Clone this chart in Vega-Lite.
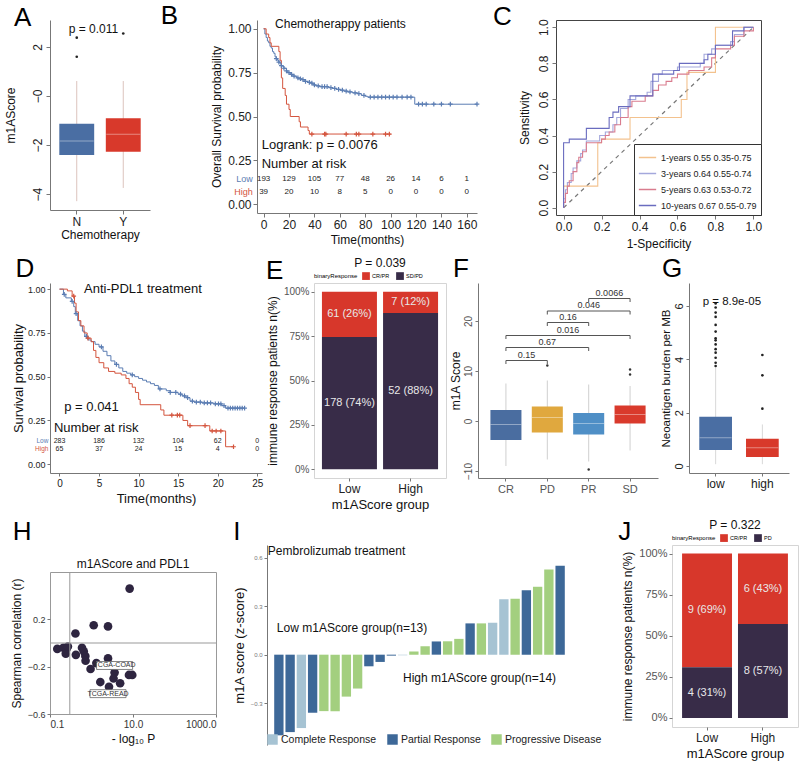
{
 "$schema": "https://vega.github.io/schema/vega-lite/v6.json",
 "background": "white",
 "padding": {"left": 3, "top": 2, "right": 2, "bottom": 2},
 "config": {
  "font": "Liberation Sans",
  "view": {"stroke": null},
  "axis": {"grid": false, "domainColor": "#777", "tickColor": "#777", "labelColor": "#333", "titleColor": "#111", "titleFontWeight": "normal", "tickSize": 4, "labelFontSize": 10, "titleFontSize": 12, "titlePadding": 4, "labelPadding": 2},
  "title": {"fontWeight": "normal", "color": "#111"},
  "legend": {"titleFontWeight": "normal"}
 },
 "datasets": {
  "a_box": [{"grp": "N", "lo": -4.29, "q1": -2.41, "med": -1.84, "q3": -1.13, "hi": 0.61}, {"grp": "Y", "lo": -3.75, "q1": -2.27, "med": -1.56, "q3": -0.91, "hi": 0.61}],
  "a_out": [{"grp": "N", "v": 2.38}, {"grp": "N", "v": 1.6}, {"grp": "Y", "v": 2.55}],
  "b_curve": [
   {"t": 0, "s": 1.0, "g": "Low"}, {"t": 1, "s": 0.97, "g": "Low"}, {"t": 2, "s": 0.95, "g": "Low"}, {"t": 3, "s": 0.93, "g": "Low"}, {"t": 4, "s": 0.92, "g": "Low"}, {"t": 5, "s": 0.9, "g": "Low"}, {"t": 6, "s": 0.89, "g": "Low"}, {"t": 7, "s": 0.87, "g": "Low"}, {"t": 8, "s": 0.86, "g": "Low"}, {"t": 9, "s": 0.84, "g": "Low"}, {"t": 10, "s": 0.83, "g": "Low"}, {"t": 11, "s": 0.82, "g": "Low"}, {"t": 12, "s": 0.81, "g": "Low"}, {"t": 13, "s": 0.8, "g": "Low"}, {"t": 14, "s": 0.79, "g": "Low"}, {"t": 15, "s": 0.785, "g": "Low"}, {"t": 16, "s": 0.775, "g": "Low"}, {"t": 18, "s": 0.76, "g": "Low"}, {"t": 19, "s": 0.75, "g": "Low"}, {"t": 21, "s": 0.74, "g": "Low"}, {"t": 23, "s": 0.73, "g": "Low"}, {"t": 26, "s": 0.72, "g": "Low"}, {"t": 28, "s": 0.715, "g": "Low"}, {"t": 30, "s": 0.71, "g": "Low"}, {"t": 32, "s": 0.7, "g": "Low"}, {"t": 35, "s": 0.695, "g": "Low"}, {"t": 37, "s": 0.69, "g": "Low"}, {"t": 39, "s": 0.68, "g": "Low"}, {"t": 41, "s": 0.675, "g": "Low"}, {"t": 44, "s": 0.67, "g": "Low"}, {"t": 51, "s": 0.665, "g": "Low"}, {"t": 54, "s": 0.66, "g": "Low"}, {"t": 57, "s": 0.655, "g": "Low"}, {"t": 60, "s": 0.65, "g": "Low"}, {"t": 63, "s": 0.645, "g": "Low"}, {"t": 66, "s": 0.64, "g": "Low"}, {"t": 70, "s": 0.635, "g": "Low"}, {"t": 74, "s": 0.63, "g": "Low"}, {"t": 77, "s": 0.62, "g": "Low"}, {"t": 80, "s": 0.615, "g": "Low"}, {"t": 82, "s": 0.61, "g": "Low"}, {"t": 119, "s": 0.57, "g": "Low"}, {"t": 168, "s": 0.57, "g": "Low"},
   {"t": 0, "s": 1.0, "g": "High"}, {"t": 2, "s": 0.97, "g": "High"}, {"t": 4, "s": 0.95, "g": "High"}, {"t": 5, "s": 0.92, "g": "High"}, {"t": 6, "s": 0.9, "g": "High"}, {"t": 12, "s": 0.87, "g": "High"}, {"t": 13, "s": 0.82, "g": "High"}, {"t": 14, "s": 0.72, "g": "High"}, {"t": 15, "s": 0.66, "g": "High"}, {"t": 17, "s": 0.62, "g": "High"}, {"t": 18, "s": 0.57, "g": "High"}, {"t": 20, "s": 0.54, "g": "High"}, {"t": 21, "s": 0.5, "g": "High"}, {"t": 28, "s": 0.47, "g": "High"}, {"t": 29, "s": 0.44, "g": "High"}, {"t": 35, "s": 0.42, "g": "High"}, {"t": 36, "s": 0.4, "g": "High"}, {"t": 100, "s": 0.4, "g": "High"}
  ],
  "b_cens": [
   {"t": 10, "s": 0.83, "g": "Low"}, {"t": 12, "s": 0.81, "g": "Low"}, {"t": 14, "s": 0.79, "g": "Low"}, {"t": 16, "s": 0.775, "g": "Low"}, {"t": 18, "s": 0.76, "g": "Low"}, {"t": 20, "s": 0.75, "g": "Low"}, {"t": 22, "s": 0.74, "g": "Low"}, {"t": 24, "s": 0.73, "g": "Low"}, {"t": 27, "s": 0.72, "g": "Low"}, {"t": 29, "s": 0.715, "g": "Low"}, {"t": 31, "s": 0.71, "g": "Low"}, {"t": 33, "s": 0.7, "g": "Low"}, {"t": 36, "s": 0.695, "g": "Low"}, {"t": 38, "s": 0.69, "g": "Low"}, {"t": 40, "s": 0.68, "g": "Low"}, {"t": 43, "s": 0.675, "g": "Low"}, {"t": 46, "s": 0.67, "g": "Low"}, {"t": 48, "s": 0.67, "g": "Low"}, {"t": 50, "s": 0.67, "g": "Low"}, {"t": 53, "s": 0.665, "g": "Low"}, {"t": 56, "s": 0.66, "g": "Low"}, {"t": 59, "s": 0.655, "g": "Low"}, {"t": 62, "s": 0.65, "g": "Low"}, {"t": 65, "s": 0.645, "g": "Low"}, {"t": 68, "s": 0.64, "g": "Low"}, {"t": 72, "s": 0.635, "g": "Low"}, {"t": 75, "s": 0.63, "g": "Low"}, {"t": 79, "s": 0.62, "g": "Low"}, {"t": 84, "s": 0.61, "g": "Low"}, {"t": 87, "s": 0.61, "g": "Low"}, {"t": 90, "s": 0.61, "g": "Low"}, {"t": 93, "s": 0.61, "g": "Low"}, {"t": 96, "s": 0.61, "g": "Low"}, {"t": 99, "s": 0.61, "g": "Low"}, {"t": 102, "s": 0.61, "g": "Low"}, {"t": 105, "s": 0.61, "g": "Low"}, {"t": 109, "s": 0.61, "g": "Low"}, {"t": 113, "s": 0.61, "g": "Low"}, {"t": 116, "s": 0.61, "g": "Low"}, {"t": 122, "s": 0.57, "g": "Low"}, {"t": 125, "s": 0.57, "g": "Low"}, {"t": 128, "s": 0.57, "g": "Low"}, {"t": 134, "s": 0.57, "g": "Low"}, {"t": 140, "s": 0.57, "g": "Low"}, {"t": 147, "s": 0.57, "g": "Low"}, {"t": 168, "s": 0.57, "g": "Low"},
   {"t": 38, "s": 0.4, "g": "High"}, {"t": 48, "s": 0.4, "g": "High"}, {"t": 49, "s": 0.4, "g": "High"}, {"t": 65, "s": 0.4, "g": "High"}, {"t": 73, "s": 0.4, "g": "High"}, {"t": 75, "s": 0.4, "g": "High"}, {"t": 86, "s": 0.4, "g": "High"}, {"t": 96, "s": 0.4, "g": "High"}, {"t": 99, "s": 0.4, "g": "High"}
  ],
  "b_risk": [
   {"t": 0, "s": 0.146, "n": 193}, {"t": 20, "s": 0.146, "n": 129}, {"t": 40, "s": 0.146, "n": 105}, {"t": 60, "s": 0.146, "n": 77}, {"t": 80, "s": 0.146, "n": 48}, {"t": 100, "s": 0.146, "n": 26}, {"t": 120, "s": 0.146, "n": 14}, {"t": 140, "s": 0.146, "n": 6}, {"t": 160, "s": 0.146, "n": 1},
   {"t": 0, "s": 0.067, "n": 39}, {"t": 20, "s": 0.067, "n": 20}, {"t": 40, "s": 0.067, "n": 10}, {"t": 60, "s": 0.067, "n": 8}, {"t": 80, "s": 0.067, "n": 5}, {"t": 100, "s": 0.067, "n": 0}, {"t": 120, "s": 0.067, "n": 0}, {"t": 140, "s": 0.067, "n": 0}, {"t": 160, "s": 0.067, "n": 0}
  ],
  "c_roc": [
   {"series": "1-years 0.55 0.35-0.75", "fpr": 0, "tpr": 0}, {"series": "1-years 0.55 0.35-0.75", "fpr": 0, "tpr": 0.12}, {"series": "1-years 0.55 0.35-0.75", "fpr": 0.18, "tpr": 0.36}, {"series": "1-years 0.55 0.35-0.75", "fpr": 0.2, "tpr": 0.38}, {"series": "1-years 0.55 0.35-0.75", "fpr": 0.35, "tpr": 0.5}, {"series": "1-years 0.55 0.35-0.75", "fpr": 0.62, "tpr": 0.6}, {"series": "1-years 0.55 0.35-0.75", "fpr": 0.65, "tpr": 0.75}, {"series": "1-years 0.55 0.35-0.75", "fpr": 0.8, "tpr": 1.0}, {"series": "1-years 0.55 0.35-0.75", "fpr": 1.0, "tpr": 1.0},
   {"series": "3-years 0.64 0.55-0.74", "fpr": 0, "tpr": 0}, {"series": "3-years 0.64 0.55-0.74", "fpr": 0, "tpr": 0.05}, {"series": "3-years 0.64 0.55-0.74", "fpr": 0.01, "tpr": 0.1}, {"series": "3-years 0.64 0.55-0.74", "fpr": 0.02, "tpr": 0.14}, {"series": "3-years 0.64 0.55-0.74", "fpr": 0.04, "tpr": 0.19}, {"series": "3-years 0.64 0.55-0.74", "fpr": 0.05, "tpr": 0.22}, {"series": "3-years 0.64 0.55-0.74", "fpr": 0.07, "tpr": 0.26}, {"series": "3-years 0.64 0.55-0.74", "fpr": 0.09, "tpr": 0.3}, {"series": "3-years 0.64 0.55-0.74", "fpr": 0.1, "tpr": 0.32}, {"series": "3-years 0.64 0.55-0.74", "fpr": 0.12, "tpr": 0.37}, {"series": "3-years 0.64 0.55-0.74", "fpr": 0.19, "tpr": 0.4}, {"series": "3-years 0.64 0.55-0.74", "fpr": 0.22, "tpr": 0.42}, {"series": "3-years 0.64 0.55-0.74", "fpr": 0.26, "tpr": 0.46}, {"series": "3-years 0.64 0.55-0.74", "fpr": 0.28, "tpr": 0.5}, {"series": "3-years 0.64 0.55-0.74", "fpr": 0.3, "tpr": 0.55}, {"series": "3-years 0.64 0.55-0.74", "fpr": 0.34, "tpr": 0.6}, {"series": "3-years 0.64 0.55-0.74", "fpr": 0.38, "tpr": 0.62}, {"series": "3-years 0.64 0.55-0.74", "fpr": 0.44, "tpr": 0.64}, {"series": "3-years 0.64 0.55-0.74", "fpr": 0.46, "tpr": 0.7}, {"series": "3-years 0.64 0.55-0.74", "fpr": 0.5, "tpr": 0.74}, {"series": "3-years 0.64 0.55-0.74", "fpr": 0.52, "tpr": 0.76}, {"series": "3-years 0.64 0.55-0.74", "fpr": 0.6, "tpr": 0.78}, {"series": "3-years 0.64 0.55-0.74", "fpr": 0.72, "tpr": 0.8}, {"series": "3-years 0.64 0.55-0.74", "fpr": 0.74, "tpr": 0.85}, {"series": "3-years 0.64 0.55-0.74", "fpr": 0.78, "tpr": 0.88}, {"series": "3-years 0.64 0.55-0.74", "fpr": 0.8, "tpr": 0.9}, {"series": "3-years 0.64 0.55-0.74", "fpr": 0.88, "tpr": 0.92}, {"series": "3-years 0.64 0.55-0.74", "fpr": 0.9, "tpr": 0.96}, {"series": "3-years 0.64 0.55-0.74", "fpr": 0.95, "tpr": 1.0}, {"series": "3-years 0.64 0.55-0.74", "fpr": 1.0, "tpr": 1.0},
   {"series": "5-years 0.63 0.53-0.72", "fpr": 0, "tpr": 0}, {"series": "5-years 0.63 0.53-0.72", "fpr": 0, "tpr": 0.03}, {"series": "5-years 0.63 0.53-0.72", "fpr": 0.01, "tpr": 0.08}, {"series": "5-years 0.63 0.53-0.72", "fpr": 0.02, "tpr": 0.12}, {"series": "5-years 0.63 0.53-0.72", "fpr": 0.03, "tpr": 0.15}, {"series": "5-years 0.63 0.53-0.72", "fpr": 0.05, "tpr": 0.2}, {"series": "5-years 0.63 0.53-0.72", "fpr": 0.07, "tpr": 0.25}, {"series": "5-years 0.63 0.53-0.72", "fpr": 0.08, "tpr": 0.28}, {"series": "5-years 0.63 0.53-0.72", "fpr": 0.1, "tpr": 0.31}, {"series": "5-years 0.63 0.53-0.72", "fpr": 0.12, "tpr": 0.36}, {"series": "5-years 0.63 0.53-0.72", "fpr": 0.2, "tpr": 0.38}, {"series": "5-years 0.63 0.53-0.72", "fpr": 0.22, "tpr": 0.4}, {"series": "5-years 0.63 0.53-0.72", "fpr": 0.24, "tpr": 0.42}, {"series": "5-years 0.63 0.53-0.72", "fpr": 0.27, "tpr": 0.46}, {"series": "5-years 0.63 0.53-0.72", "fpr": 0.3, "tpr": 0.5}, {"series": "5-years 0.63 0.53-0.72", "fpr": 0.34, "tpr": 0.56}, {"series": "5-years 0.63 0.53-0.72", "fpr": 0.36, "tpr": 0.59}, {"series": "5-years 0.63 0.53-0.72", "fpr": 0.43, "tpr": 0.62}, {"series": "5-years 0.63 0.53-0.72", "fpr": 0.47, "tpr": 0.65}, {"series": "5-years 0.63 0.53-0.72", "fpr": 0.5, "tpr": 0.68}, {"series": "5-years 0.63 0.53-0.72", "fpr": 0.54, "tpr": 0.7}, {"series": "5-years 0.63 0.53-0.72", "fpr": 0.57, "tpr": 0.72}, {"series": "5-years 0.63 0.53-0.72", "fpr": 0.6, "tpr": 0.74}, {"series": "5-years 0.63 0.53-0.72", "fpr": 0.66, "tpr": 0.76}, {"series": "5-years 0.63 0.53-0.72", "fpr": 0.74, "tpr": 0.78}, {"series": "5-years 0.63 0.53-0.72", "fpr": 0.78, "tpr": 0.83}, {"series": "5-years 0.63 0.53-0.72", "fpr": 0.8, "tpr": 0.88}, {"series": "5-years 0.63 0.53-0.72", "fpr": 0.88, "tpr": 0.9}, {"series": "5-years 0.63 0.53-0.72", "fpr": 0.9, "tpr": 0.95}, {"series": "5-years 0.63 0.53-0.72", "fpr": 0.95, "tpr": 0.98}, {"series": "5-years 0.63 0.53-0.72", "fpr": 1.0, "tpr": 1.0},
   {"series": "10-years 0.67 0.55-0.79", "fpr": 0, "tpr": 0}, {"series": "10-years 0.67 0.55-0.79", "fpr": 0, "tpr": 0.36}, {"series": "10-years 0.67 0.55-0.79", "fpr": 0.03, "tpr": 0.38}, {"series": "10-years 0.67 0.55-0.79", "fpr": 0.12, "tpr": 0.44}, {"series": "10-years 0.67 0.55-0.79", "fpr": 0.24, "tpr": 0.5}, {"series": "10-years 0.67 0.55-0.79", "fpr": 0.26, "tpr": 0.53}, {"series": "10-years 0.67 0.55-0.79", "fpr": 0.29, "tpr": 0.56}, {"series": "10-years 0.67 0.55-0.79", "fpr": 0.35, "tpr": 0.62}, {"series": "10-years 0.67 0.55-0.79", "fpr": 0.47, "tpr": 0.74}, {"series": "10-years 0.67 0.55-0.79", "fpr": 0.58, "tpr": 0.76}, {"series": "10-years 0.67 0.55-0.79", "fpr": 0.61, "tpr": 0.8}, {"series": "10-years 0.67 0.55-0.79", "fpr": 0.74, "tpr": 0.82}, {"series": "10-years 0.67 0.55-0.79", "fpr": 0.76, "tpr": 0.85}, {"series": "10-years 0.67 0.55-0.79", "fpr": 0.8, "tpr": 0.9}, {"series": "10-years 0.67 0.55-0.79", "fpr": 0.89, "tpr": 0.98}, {"series": "10-years 0.67 0.55-0.79", "fpr": 0.95, "tpr": 1.0}, {"series": "10-years 0.67 0.55-0.79", "fpr": 1.0, "tpr": 1.0}
  ],
  "d_curve": [
   {"t": 0, "s": 1.0, "g": "Low"}, {"t": 0.5, "s": 0.97, "g": "Low"}, {"t": 0.8, "s": 0.95, "g": "Low"}, {"t": 1.5, "s": 0.93, "g": "Low"}, {"t": 1.8, "s": 0.9, "g": "Low"}, {"t": 2.0, "s": 0.86, "g": "Low"}, {"t": 2.3, "s": 0.82, "g": "Low"}, {"t": 2.6, "s": 0.79, "g": "Low"}, {"t": 2.9, "s": 0.76, "g": "Low"}, {"t": 3.2, "s": 0.73, "g": "Low"}, {"t": 3.6, "s": 0.71, "g": "Low"}, {"t": 4.0, "s": 0.7, "g": "Low"}, {"t": 4.5, "s": 0.685, "g": "Low"}, {"t": 5.0, "s": 0.67, "g": "Low"}, {"t": 5.5, "s": 0.645, "g": "Low"}, {"t": 6.0, "s": 0.62, "g": "Low"}, {"t": 6.5, "s": 0.59, "g": "Low"}, {"t": 7.0, "s": 0.57, "g": "Low"}, {"t": 7.5, "s": 0.55, "g": "Low"}, {"t": 8.0, "s": 0.53, "g": "Low"}, {"t": 8.5, "s": 0.52, "g": "Low"}, {"t": 9.0, "s": 0.51, "g": "Low"}, {"t": 9.5, "s": 0.5, "g": "Low"}, {"t": 10.0, "s": 0.49, "g": "Low"}, {"t": 10.5, "s": 0.48, "g": "Low"}, {"t": 11.0, "s": 0.47, "g": "Low"}, {"t": 11.5, "s": 0.46, "g": "Low"}, {"t": 12.0, "s": 0.45, "g": "Low"}, {"t": 12.5, "s": 0.43, "g": "Low"}, {"t": 13.5, "s": 0.42, "g": "Low"}, {"t": 14.0, "s": 0.41, "g": "Low"}, {"t": 15.0, "s": 0.4, "g": "Low"}, {"t": 15.5, "s": 0.39, "g": "Low"}, {"t": 16.0, "s": 0.38, "g": "Low"}, {"t": 16.5, "s": 0.36, "g": "Low"}, {"t": 17.0, "s": 0.355, "g": "Low"}, {"t": 18.0, "s": 0.35, "g": "Low"}, {"t": 19.5, "s": 0.345, "g": "Low"}, {"t": 20.5, "s": 0.335, "g": "Low"}, {"t": 21.0, "s": 0.32, "g": "Low"}, {"t": 23.4, "s": 0.32, "g": "Low"},
   {"t": 0, "s": 1.0, "g": "High"}, {"t": 1.0, "s": 0.99, "g": "High"}, {"t": 1.6, "s": 0.96, "g": "High"}, {"t": 1.9, "s": 0.92, "g": "High"}, {"t": 2.1, "s": 0.87, "g": "High"}, {"t": 2.4, "s": 0.82, "g": "High"}, {"t": 2.7, "s": 0.79, "g": "High"}, {"t": 3.1, "s": 0.75, "g": "High"}, {"t": 3.5, "s": 0.72, "g": "High"}, {"t": 4.0, "s": 0.7, "g": "High"}, {"t": 4.3, "s": 0.65, "g": "High"}, {"t": 4.6, "s": 0.61, "g": "High"}, {"t": 5.0, "s": 0.58, "g": "High"}, {"t": 5.6, "s": 0.55, "g": "High"}, {"t": 6.2, "s": 0.53, "g": "High"}, {"t": 7.0, "s": 0.52, "g": "High"}, {"t": 7.8, "s": 0.51, "g": "High"}, {"t": 8.4, "s": 0.49, "g": "High"}, {"t": 8.8, "s": 0.46, "g": "High"}, {"t": 9.2, "s": 0.44, "g": "High"}, {"t": 9.6, "s": 0.41, "g": "High"}, {"t": 10.0, "s": 0.37, "g": "High"}, {"t": 10.2, "s": 0.34, "g": "High"}, {"t": 12.8, "s": 0.31, "g": "High"}, {"t": 13.2, "s": 0.28, "g": "High"}, {"t": 15.6, "s": 0.25, "g": "High"}, {"t": 16.2, "s": 0.22, "g": "High"}, {"t": 19.0, "s": 0.19, "g": "High"}, {"t": 21.0, "s": 0.1, "g": "High"}, {"t": 22.0, "s": 0.1, "g": "High"}
  ],
  "d_cens": [
   {"t": 0.6, "s": 0.97, "g": "Low"}, {"t": 1.6, "s": 0.93, "g": "Low"}, {"t": 2.1, "s": 0.86, "g": "Low"}, {"t": 3.4, "s": 0.73, "g": "Low"}, {"t": 5.3, "s": 0.67, "g": "Low"}, {"t": 7.2, "s": 0.57, "g": "Low"}, {"t": 9.2, "s": 0.51, "g": "Low"}, {"t": 12.7, "s": 0.43, "g": "Low"}, {"t": 14.0, "s": 0.41, "g": "Low"}, {"t": 14.7, "s": 0.41, "g": "Low"}, {"t": 15.3, "s": 0.4, "g": "Low"}, {"t": 15.8, "s": 0.39, "g": "Low"}, {"t": 16.2, "s": 0.38, "g": "Low"}, {"t": 16.8, "s": 0.36, "g": "Low"}, {"t": 17.3, "s": 0.355, "g": "Low"}, {"t": 17.8, "s": 0.355, "g": "Low"}, {"t": 18.3, "s": 0.35, "g": "Low"}, {"t": 18.7, "s": 0.35, "g": "Low"}, {"t": 19.1, "s": 0.35, "g": "Low"}, {"t": 19.7, "s": 0.345, "g": "Low"}, {"t": 20.1, "s": 0.345, "g": "Low"}, {"t": 20.4, "s": 0.345, "g": "Low"}, {"t": 20.8, "s": 0.335, "g": "Low"}, {"t": 21.3, "s": 0.32, "g": "Low"}, {"t": 21.6, "s": 0.32, "g": "Low"}, {"t": 21.9, "s": 0.32, "g": "Low"}, {"t": 22.2, "s": 0.32, "g": "Low"}, {"t": 22.5, "s": 0.32, "g": "Low"}, {"t": 22.8, "s": 0.32, "g": "Low"}, {"t": 23.1, "s": 0.32, "g": "Low"}, {"t": 23.4, "s": 0.32, "g": "Low"},
   {"t": 1.8, "s": 0.96, "g": "High"}, {"t": 3.6, "s": 0.72, "g": "High"}, {"t": 14.2, "s": 0.28, "g": "High"}, {"t": 14.9, "s": 0.28, "g": "High"}, {"t": 15.2, "s": 0.28, "g": "High"}, {"t": 16.5, "s": 0.22, "g": "High"}, {"t": 18.4, "s": 0.22, "g": "High"}, {"t": 19.3, "s": 0.19, "g": "High"}, {"t": 19.8, "s": 0.19, "g": "High"}, {"t": 20.4, "s": 0.19, "g": "High"}, {"t": 22.0, "s": 0.1, "g": "High"}
  ],
  "d_risk": [
   {"t": 0, "s": 0.13, "n": 283}, {"t": 5, "s": 0.13, "n": 186}, {"t": 10, "s": 0.13, "n": 132}, {"t": 15, "s": 0.13, "n": 104}, {"t": 20, "s": 0.13, "n": 62}, {"t": 25, "s": 0.13, "n": 0},
   {"t": 0, "s": 0.088, "n": 65}, {"t": 5, "s": 0.088, "n": 37}, {"t": 10, "s": 0.088, "n": 24}, {"t": 15, "s": 0.088, "n": 15}, {"t": 20, "s": 0.088, "n": 4}, {"t": 25, "s": 0.088, "n": 0}
  ],
  "e_bar": [{"group": "Low", "resp": "CR/PR", "n": 61, "label": "61 (26%)"}, {"group": "Low", "resp": "SD/PD", "n": 178, "label": "178 (74%)"}, {"group": "High", "resp": "CR/PR", "n": 7, "label": "7 (12%)"}, {"group": "High", "resp": "SD/PD", "n": 52, "label": "52 (88%)"}],
  "f_box": [{"grp": "CR", "lo": -9.0, "q1": -3.8, "med": -0.7, "q3": 2.2, "hi": 7.5}, {"grp": "PD", "lo": -7.7, "q1": -2.3, "med": 0.7, "q3": 2.9, "hi": 8.1}, {"grp": "PR", "lo": -8.1, "q1": -2.7, "med": -0.5, "q3": 1.6, "hi": 7.3}, {"grp": "SD", "lo": -5.9, "q1": -0.5, "med": 1.3, "q3": 3.1, "hi": 7.0}],
  "f_out": [{"grp": "PD", "v": 11.1}, {"grp": "PR", "v": -9.7}, {"grp": "SD", "v": 10.3}, {"grp": "SD", "v": 9.3}],
  "f_br": [{"g1": "CR", "g2": "PD", "y": 12.1, "yb": 11.4, "p": "0.15", "span": 1}, {"g1": "CR", "g2": "PR", "y": 14.7, "yb": 14.0, "p": "0.67", "span": 2}, {"g1": "CR", "g2": "SD", "y": 17.1, "yb": 16.4, "p": "0.016", "span": 3}, {"g1": "PD", "g2": "PR", "y": 19.7, "yb": 19.0, "p": "0.16", "span": 1}, {"g1": "PD", "g2": "SD", "y": 22.0, "yb": 21.3, "p": "0.046", "span": 2}, {"g1": "PR", "g2": "SD", "y": 24.5, "yb": 23.8, "p": "0.0066", "span": 1}],
  "g_box": [{"grp": "low", "lo": 0.07, "q1": 0.6, "med": 1.06, "q3": 1.85, "hi": 3.7}, {"grp": "high", "lo": 0.07, "q1": 0.34, "med": 0.69, "q3": 1.02, "hi": 1.56}],
  "g_out": [{"grp": "low", "v": 3.75}, {"grp": "low", "v": 3.87}, {"grp": "low", "v": 4.06}, {"grp": "low", "v": 4.25}, {"grp": "low", "v": 4.38}, {"grp": "low", "v": 4.56}, {"grp": "low", "v": 4.71}, {"grp": "low", "v": 4.79}, {"grp": "low", "v": 5.04}, {"grp": "low", "v": 5.29}, {"grp": "low", "v": 5.59}, {"grp": "low", "v": 5.75}, {"grp": "low", "v": 5.94}, {"grp": "low", "v": 6.09}, {"grp": "high", "v": 2.15}, {"grp": "high", "v": 3.4}, {"grp": "high", "v": 4.16}],
  "h_pts": [{"x": 0.15, "y": -0.05}, {"x": 0.21, "y": -0.04}, {"x": 0.25, "y": -0.05}, {"x": 0.24, "y": -0.09}, {"x": 0.27, "y": -0.03}, {"x": 0.41, "y": 0.08}, {"x": 0.42, "y": -0.1}, {"x": 0.59, "y": -0.04}, {"x": 0.65, "y": -0.07}, {"x": 0.71, "y": -0.11}, {"x": 0.72, "y": -0.15}, {"x": 0.95, "y": -0.22}, {"x": 1.13, "y": 0.15}, {"x": 1.31, "y": -0.17}, {"x": 1.63, "y": -0.33}, {"x": 2.5, "y": 0.14}, {"x": 2.5, "y": -0.13}, {"x": 2.64, "y": -0.37}, {"x": 3.6, "y": -0.25}, {"x": 3.4, "y": -0.3}, {"x": 4.9, "y": -0.34}, {"x": 8.3, "y": 0.46}, {"x": 8.0, "y": -0.27}, {"x": 9.6, "y": -0.27}, {"x": 3.0, "y": -0.19}],
  "h_lab": [{"x": 3.6, "y": -0.19, "label": "TCGA-COAD"}, {"x": 2.5, "y": -0.428, "label": "TCGA-READ"}],
  "i_bar": [{"id": "b01", "resp": "Partial Response", "v": -0.5}, {"id": "b02", "resp": "Partial Response", "v": -0.48}, {"id": "b03", "resp": "Complete Response", "v": -0.455}, {"id": "b04", "resp": "Partial Response", "v": -0.36}, {"id": "b05", "resp": "Progressive Disease", "v": -0.35}, {"id": "b06", "resp": "Progressive Disease", "v": -0.35}, {"id": "b07", "resp": "Progressive Disease", "v": -0.26}, {"id": "b08", "resp": "Progressive Disease", "v": -0.21}, {"id": "b09", "resp": "Partial Response", "v": -0.072}, {"id": "b10", "resp": "Partial Response", "v": -0.045}, {"id": "b11", "resp": "Partial Response", "v": -0.006}, {"id": "b12", "resp": "Complete Response", "v": -0.004}, {"id": "b13", "resp": "Progressive Disease", "v": 0.02}, {"id": "b14", "resp": "Progressive Disease", "v": 0.053}, {"id": "b15", "resp": "Partial Response", "v": 0.082}, {"id": "b16", "resp": "Progressive Disease", "v": 0.083}, {"id": "b17", "resp": "Progressive Disease", "v": 0.098}, {"id": "b18", "resp": "Partial Response", "v": 0.194}, {"id": "b19", "resp": "Progressive Disease", "v": 0.194}, {"id": "b20", "resp": "Complete Response", "v": 0.198}, {"id": "b21", "resp": "Complete Response", "v": 0.344}, {"id": "b22", "resp": "Progressive Disease", "v": 0.347}, {"id": "b23", "resp": "Partial Response", "v": 0.399}, {"id": "b24", "resp": "Progressive Disease", "v": 0.421}, {"id": "b25", "resp": "Progressive Disease", "v": 0.528}, {"id": "b26", "resp": "Partial Response", "v": 0.552}],
  "j_bar": [{"group": "Low", "resp": "CR/PR", "n": 9, "label": "9 (69%)"}, {"group": "Low", "resp": "PD", "n": 4, "label": "4 (31%)"}, {"group": "High", "resp": "CR/PR", "n": 6, "label": "6 (43%)"}, {"group": "High", "resp": "PD", "n": 8, "label": "8 (57%)"}]
 },
 "spacing": 6,
 "resolve": {"scale": {"color": "independent"}, "legend": {"color": "independent"}},
 "vconcat": [
  {
   "spacing": 10,
   "resolve": {"scale": {"color": "independent"}, "legend": {"color": "independent"}},
   "hconcat": [
    {
     "title": {"text": "A", "fontSize": 26, "anchor": "start", "frame": "bounds", "offset": -11, "dx": 10, "color": "#000"},
     "width": 100, "height": 190,
     "encoding": {"x": {"field": "grp", "type": "nominal", "scale": {"domain": ["N", "Y"], "paddingInner": 0.25, "paddingOuter": 0.2}, "axis": {"title": "Chemotherapy", "labelAngle": 0, "labelFontSize": 12, "titleFontSize": 12, "titlePadding": 2, "labelColor": "#222"}}},
     "layer": [
      {"data": {"name": "a_box"}, "mark": {"type": "rule", "color": "#dcc3bd"}, "encoding": {"y": {"field": "lo", "type": "quantitative", "scale": {"domain": [-4.65, 3.1], "nice": false, "zero": false}, "axis": {"title": "m1AScore", "values": [-4, -2, 0, 2], "labelAngle": -90, "labelExpr": "datum.value == 0 ? '−0' : datum.label", "labelFontSize": 12, "titleFontSize": 12, "titlePadding": 14, "labelColor": "#222"}}, "y2": {"field": "hi"}}},
      {"data": {"name": "a_box"}, "mark": {"type": "bar"}, "encoding": {"y": {"field": "q1", "type": "quantitative"}, "y2": {"field": "q3"}, "color": {"field": "grp", "type": "nominal", "scale": {"domain": ["N", "Y"], "range": ["#4a6ea3", "#d8392b"]}, "legend": null}}},
      {"data": {"name": "a_box"}, "mark": {"type": "tick", "color": "white", "opacity": 0.4, "thickness": 1, "size": 34}, "encoding": {"y": {"field": "med", "type": "quantitative"}}},
      {"data": {"name": "a_out"}, "mark": {"type": "circle", "color": "#222", "size": 7, "opacity": 1}, "encoding": {"y": {"field": "v", "type": "quantitative"}}},
      {"data": {"values": [{"grp": "N", "v": 2.73, "label": "p = 0.011"}]}, "mark": {"type": "text", "align": "left", "dx": -8, "fontSize": 12, "color": "#111"}, "encoding": {"y": {"field": "v", "type": "quantitative"}, "text": {"field": "label"}}}
     ]
    },
    {
     "title": {"text": "B", "fontSize": 26, "anchor": "start", "frame": "bounds", "offset": -11, "dx": -50, "color": "#000"},
     "width": 220, "height": 193,
     "encoding": {
      "x": {"field": "t", "type": "quantitative", "scale": {"domain": [-5.2, 168], "nice": false, "zero": false}, "axis": {"title": "Time(months)", "values": [0, 20, 40, 60, 80, 100, 120, 140, 160], "labelFontSize": 12, "titleFontSize": 12, "labelColor": "#222"}},
      "y": {"field": "s", "type": "quantitative", "scale": {"domain": [-0.05, 1.05], "nice": false, "zero": false}, "axis": {"title": "Overall Survival probability", "values": [0, 0.25, 0.5, 0.75, 1], "format": ".2f", "labelFontSize": 12, "titleFontSize": 12, "labelColor": "#222"}}
     },
     "layer": [
      {"data": {"name": "b_curve"}, "mark": {"type": "line", "interpolate": "step-after", "strokeWidth": 1}, "encoding": {"color": {"field": "g", "type": "nominal", "scale": {"domain": ["Low", "High"], "range": ["#5b7db3", "#d4553e"]}, "legend": null}}},
      {"data": {"name": "b_cens"}, "mark": {"type": "point", "shape": "M-1,0L1,0M0,-1L0,1", "size": 22, "strokeWidth": 1.2, "filled": false, "opacity": 1}, "encoding": {"color": {"field": "g", "type": "nominal", "legend": null}}},
      {"data": {"name": "b_risk"}, "mark": {"type": "text", "fontSize": 8, "color": "#222"}, "encoding": {"text": {"field": "n"}}},
      {"data": {"values": [{"t": -8.5, "s": 0.146, "g": "Low"}, {"t": -8.5, "s": 0.067, "g": "High"}]}, "mark": {"type": "text", "align": "right", "fontSize": 9}, "encoding": {"text": {"field": "g"}, "color": {"field": "g", "type": "nominal", "legend": null}}},
      {"data": {"values": [{"t": 9, "s": 1.03, "label": "Chemotherappy patients"}]}, "mark": {"type": "text", "align": "left", "fontSize": 12, "color": "#111"}, "encoding": {"text": {"field": "label"}}},
      {"data": {"values": [{"t": -1.5, "s": 0.335, "label": "Logrank: p = 0.0076"}, {"t": -1.5, "s": 0.228, "label": "Number at risk"}]}, "mark": {"type": "text", "align": "left", "fontSize": 13, "color": "#111"}, "encoding": {"text": {"field": "label"}}}
     ]
    },
    {
     "title": {"text": "C", "fontSize": 26, "anchor": "start", "frame": "bounds", "offset": -11, "dx": -25, "color": "#000"},
     "width": 205, "height": 195,
     "view": {"stroke": "#444"},
     "encoding": {
      "x": {"field": "fpr", "type": "quantitative", "scale": {"domain": [-0.04, 1.04], "nice": false, "zero": false}, "axis": {"title": "1-Specificity", "values": [0, 0.2, 0.4, 0.6, 0.8, 1], "format": ".1f", "domain": false, "labelFontSize": 12, "titleFontSize": 12, "titlePadding": 6, "labelColor": "#222"}},
      "y": {"field": "tpr", "type": "quantitative", "scale": {"domain": [-0.04, 1.04], "nice": false, "zero": false}, "axis": {"title": "Sensitivity", "values": [0, 0.2, 0.4, 0.6, 0.8, 1], "format": ".1f", "domain": false, "labelAngle": -90, "labelFontSize": 12, "titleFontSize": 12, "titlePadding": 6, "labelColor": "#222"}}
     },
     "layer": [
      {"data": {"values": [{"fpr": 0, "tpr": 0}, {"fpr": 1, "tpr": 1}]}, "mark": {"type": "line", "color": "#777", "strokeDash": [4, 4], "strokeWidth": 1.2}, "encoding": {}},
      {"data": {"name": "c_roc"}, "mark": {"type": "line", "interpolate": "step-after", "strokeWidth": 1.1}, "encoding": {"color": {"field": "series", "type": "nominal", "scale": {"domain": ["1-years 0.55 0.35-0.75", "3-years 0.64 0.55-0.74", "5-years 0.63 0.53-0.72", "10-years 0.67 0.55-0.79"], "range": ["#f3c28e", "#a4a8dc", "#d97c8e", "#6a6cbf"]}, "legend": {"orient": "bottom-right", "title": null, "symbolType": "stroke", "symbolStrokeWidth": 1.5, "symbolSize": 300, "labelFontSize": 9, "labelColor": "#222", "strokeColor": "#333", "fillColor": "white", "padding": 4, "rowPadding": 1, "offset": 0, "labelLimit": 200}}}}
     ]
    }
   ]
  },
  {
   "spacing": 2,
   "resolve": {"scale": {"color": "independent"}, "legend": {"color": "independent"}},
   "hconcat": [
    {
     "title": {"text": "D", "fontSize": 26, "anchor": "start", "frame": "bounds", "offset": 1, "dx": 3, "color": "#000"},
     "width": 212, "height": 190,
     "encoding": {
      "x": {"field": "t", "type": "quantitative", "scale": {"domain": [-1.2, 25.6], "nice": false, "zero": false}, "axis": {"title": "Time(months)", "values": [0, 5, 10, 15, 20, 25], "labelFontSize": 10, "titleFontSize": 13, "tickSize": 3, "labelColor": "#222"}},
      "y": {"field": "s", "type": "quantitative", "scale": {"domain": [-0.05, 1.035], "nice": false, "zero": false}, "axis": {"title": "Survival probability", "values": [0, 0.25, 0.5, 0.75, 1], "format": ".2f", "labelFontSize": 9, "titleFontSize": 13, "tickSize": 3, "titlePadding": 2, "labelColor": "#222"}}
     },
     "layer": [
      {"data": {"name": "d_curve"}, "mark": {"type": "line", "interpolate": "step-after", "strokeWidth": 1}, "encoding": {"color": {"field": "g", "type": "nominal", "scale": {"domain": ["Low", "High"], "range": ["#5b7db3", "#d4553e"]}, "legend": null}}},
      {"data": {"name": "d_cens"}, "mark": {"type": "point", "shape": "M-1,0L1,0M0,-1L0,1", "size": 22, "strokeWidth": 1.2, "filled": false, "opacity": 1}, "encoding": {"color": {"field": "g", "type": "nominal", "legend": null}}},
      {"data": {"name": "d_risk"}, "mark": {"type": "text", "fontSize": 7, "color": "#222"}, "encoding": {"text": {"field": "n"}}},
      {"data": {"values": [{"t": -1.4, "s": 0.13, "g": "Low"}, {"t": -1.4, "s": 0.088, "g": "High"}]}, "mark": {"type": "text", "align": "right", "fontSize": 6.5}, "encoding": {"text": {"field": "g"}, "color": {"field": "g", "type": "nominal", "legend": null}}},
      {"data": {"values": [{"t": 3.1, "s": 1.0, "label": "Anti-PDL1 treatment"}, {"t": 0.6, "s": 0.327, "label": "p = 0.041"}, {"t": -0.7, "s": 0.206, "label": "Number at risk"}]}, "mark": {"type": "text", "align": "left", "fontSize": 13, "color": "#111"}, "encoding": {"text": {"field": "label"}}}
     ]
    },
    {
     "title": {"text": "E", "fontSize": 26, "anchor": "start", "frame": "bounds", "offset": -27, "dx": 0, "color": "#000"},
     "resolve": {"scale": {"color": "independent"}, "legend": {"color": "independent"}},
     "vconcat": [
      {
       "title": {"text": "P = 0.039", "fontSize": 12, "anchor": "middle", "frame": "group", "offset": 2},
       "width": 132, "height": 195,
       "view": {"stroke": "#d5d5d5", "fill": "white"},
       "data": {"name": "e_bar"},
       "encoding": {"x": {"field": "group", "type": "nominal", "sort": ["Low", "High"], "scale": {"paddingInner": 0.1, "paddingOuter": 0.13}, "axis": {"title": "m1AScore group", "labelAngle": 0, "labelFontSize": 12, "titleFontSize": 13, "domain": false, "tickSize": 3, "labelColor": "#222"}}},
       "layer": [
        {"mark": {"type": "bar"}, "encoding": {"y": {"field": "n", "type": "quantitative", "stack": "normalize", "scale": {"domain": [-0.05, 1.05], "nice": false, "zero": false}, "axis": {"title": "immune response patients n(%)", "values": [0, 0.25, 0.5, 0.75, 1], "format": ".0%", "domain": false, "labelFontSize": 10, "labelColor": "#555", "titleFontSize": 12, "tickSize": 3}}, "color": {"field": "resp", "type": "nominal", "scale": {"domain": ["CR/PR", "SD/PD"], "range": ["#d7372b", "#382c48"]}, "legend": {"orient": "top", "direction": "horizontal", "title": "binaryResponse", "titleOrient": "left", "titleFontSize": 6, "labelFontSize": 5.5, "symbolType": "square", "symbolSize": 60, "symbolStrokeWidth": 0, "offset": 3, "titlePadding": 4, "columnPadding": 6, "labelOffset": 2, "padding": 0}}, "order": {"field": "resp", "type": "nominal", "sort": "descending"}}},
        {"mark": {"type": "text", "color": "#e8e8e8", "fontSize": 11}, "encoding": {"y": {"field": "n", "type": "quantitative", "stack": "normalize", "bandPosition": 0.5}, "detail": {"field": "resp"}, "order": {"field": "resp", "type": "nominal", "sort": "descending"}, "text": {"field": "label"}}}
       ]
      }
     ]
    },
    {
     "title": {"text": "F", "fontSize": 26, "anchor": "start", "frame": "bounds", "offset": 1, "dx": 4, "color": "#000"},
     "width": 180, "height": 195,
     "layer": [
      {"data": {"name": "f_box"}, "mark": {"type": "rule", "color": "#cfcfcf"}, "encoding": {"x": {"field": "grp", "type": "nominal", "scale": {"domain": ["CR", "PD", "PR", "SD"], "paddingInner": 0.25, "paddingOuter": 0.3}, "axis": {"title": null, "labelAngle": 0, "labelFontSize": 11, "labelColor": "#555", "tickSize": 3}}, "y": {"field": "lo", "type": "quantitative", "scale": {"domain": [-11.4, 27.6], "nice": false, "zero": false}, "axis": {"title": "m1A Score", "values": [-10, 0, 10, 20], "labelAngle": -90, "labelFontSize": 10, "labelColor": "#555", "titleFontSize": 12, "tickSize": 3, "titlePadding": 1}}, "y2": {"field": "hi"}}},
      {"data": {"name": "f_box"}, "mark": {"type": "bar"}, "encoding": {"x": {"field": "grp", "type": "nominal", "axis": {"title": null}}, "y": {"field": "q1", "type": "quantitative"}, "y2": {"field": "q3"}, "color": {"field": "grp", "type": "nominal", "scale": {"domain": ["CR", "PD", "PR", "SD"], "range": ["#4a6da0", "#e0a83e", "#4f8fc6", "#d93a2c"]}, "legend": null}}},
      {"data": {"name": "f_box"}, "mark": {"type": "tick", "color": "white", "opacity": 0.4, "thickness": 1, "size": 31}, "encoding": {"x": {"field": "grp", "type": "nominal", "axis": {"title": null}}, "y": {"field": "med", "type": "quantitative"}}},
      {"data": {"name": "f_out"}, "mark": {"type": "circle", "color": "#333", "size": 6, "opacity": 1}, "encoding": {"x": {"field": "grp", "type": "nominal", "axis": {"title": null}}, "y": {"field": "v", "type": "quantitative"}}},
      {"data": {"name": "f_br"}, "mark": {"type": "rule", "color": "#555"}, "encoding": {"x": {"field": "g1", "type": "nominal", "axis": {"title": null}}, "x2": {"field": "g2"}, "y": {"field": "y", "type": "quantitative"}}},
      {"data": {"name": "f_br"}, "mark": {"type": "rule", "color": "#555"}, "encoding": {"x": {"field": "g1", "type": "nominal", "axis": {"title": null}}, "y": {"field": "y", "type": "quantitative"}, "y2": {"field": "yb"}}},
      {"data": {"name": "f_br"}, "mark": {"type": "rule", "color": "#555"}, "encoding": {"x": {"field": "g2", "type": "nominal", "axis": {"title": null}}, "y": {"field": "y", "type": "quantitative"}, "y2": {"field": "yb"}}},
      {"data": {"name": "f_br"}, "transform": [{"filter": "datum.span == 1"}], "mark": {"type": "text", "baseline": "bottom", "dy": -1, "fontSize": 9, "color": "#333"}, "encoding": {"x": {"field": "g1", "type": "nominal", "bandPosition": 1.1667, "axis": {"title": null}}, "y": {"field": "y", "type": "quantitative"}, "text": {"field": "p"}}},
      {"data": {"name": "f_br"}, "transform": [{"filter": "datum.span == 2"}], "mark": {"type": "text", "baseline": "bottom", "dy": -1, "fontSize": 9, "color": "#333"}, "encoding": {"x": {"field": "g1", "type": "nominal", "bandPosition": 1.8333, "axis": {"title": null}}, "y": {"field": "y", "type": "quantitative"}, "text": {"field": "p"}}},
      {"data": {"name": "f_br"}, "transform": [{"filter": "datum.span == 3"}], "mark": {"type": "text", "baseline": "bottom", "dy": -1, "fontSize": 9, "color": "#333"}, "encoding": {"x": {"field": "g1", "type": "nominal", "bandPosition": 2.5, "axis": {"title": null}}, "y": {"field": "y", "type": "quantitative"}, "text": {"field": "p"}}}
     ]
    },
    {
     "title": {"text": "G", "fontSize": 26, "anchor": "start", "frame": "bounds", "offset": 1, "dx": 2, "color": "#000"},
     "width": 100, "height": 190,
     "encoding": {"x": {"field": "grp", "type": "nominal", "scale": {"domain": ["low", "high"], "paddingInner": 0.3, "paddingOuter": 0.22}, "axis": {"title": null, "labelAngle": 0, "labelFontSize": 12, "tickSize": 3, "labelColor": "#222"}}},
     "layer": [
      {"data": {"name": "g_box"}, "mark": {"type": "rule", "color": "#d8d8d8"}, "encoding": {"y": {"field": "lo", "type": "quantitative", "scale": {"domain": [-0.26, 6.86], "nice": false, "zero": false}, "axis": {"title": "Neoantigen burden per MB", "values": [0, 2, 4, 6], "labelAngle": -90, "labelFontSize": 11, "titleFontSize": 11.5, "tickSize": 3, "titlePadding": 2, "labelColor": "#222"}}, "y2": {"field": "hi"}}},
      {"data": {"name": "g_box"}, "mark": {"type": "bar"}, "encoding": {"y": {"field": "q1", "type": "quantitative"}, "y2": {"field": "q3"}, "color": {"field": "grp", "type": "nominal", "scale": {"domain": ["low", "high"], "range": ["#4a6ea3", "#d8392b"]}, "legend": null}}},
      {"data": {"name": "g_box"}, "mark": {"type": "tick", "color": "white", "opacity": 0.4, "thickness": 1, "size": 32}, "encoding": {"y": {"field": "med", "type": "quantitative"}}},
      {"data": {"name": "g_out"}, "mark": {"type": "circle", "color": "#222", "size": 7, "opacity": 1}, "encoding": {"y": {"field": "v", "type": "quantitative"}}},
      {"data": {"values": [{"grp": "low", "v": 6.15, "label": "p = 8.9e-05"}]}, "mark": {"type": "text", "align": "left", "dx": -13, "fontSize": 11.5, "color": "#111"}, "encoding": {"y": {"field": "v", "type": "quantitative"}, "text": {"field": "label"}}}
     ]
    }
   ]
  },
  {
   "spacing": 16,
   "resolve": {"scale": {"color": "independent"}, "legend": {"color": "independent"}},
   "hconcat": [
    {
     "title": {"text": "H", "fontSize": 26, "anchor": "start", "frame": "bounds", "offset": 0, "dx": 3, "color": "#000"},
     "spacing": 0,
     "vconcat": [
      {
       "width": 166, "height": 26,
       "data": {"values": [{"label": "m1AScore and PDL1"}]},
       "mark": {"type": "text", "fontSize": 12, "dy": 6, "color": "#111"},
       "encoding": {"text": {"field": "label"}}
      },
      {
       "width": 166, "height": 142,
       "view": {"stroke": "#999"},
       "layer": [
        {"data": {"name": "h_pts"}, "mark": {"type": "circle", "size": 75, "color": "#2e2540", "opacity": 1}, "encoding": {
         "x": {"field": "x", "type": "quantitative", "scale": {"type": "log", "domain": [0.1, 1000], "nice": false}, "axis": {"title": "- log₁₀ P", "values": [0.1, 10, 1000], "format": ".1f", "domain": false, "labelFontSize": 10, "titleFontSize": 12, "tickSize": 3, "labelColor": "#333"}},
         "y": {"field": "y", "type": "quantitative", "scale": {"domain": [-0.6, 0.6], "nice": false, "zero": false}, "axis": {"title": "Spearman correlation (r)", "values": [-0.6, -0.4, -0.2, 0, 0.2, 0.4], "format": ".1f", "domain": false, "labelFontSize": 9, "titleFontSize": 12, "tickSize": 3, "labelColor": "#333"}}}},
        {"data": {"values": [{}]}, "mark": {"type": "rule", "color": "#999"}, "encoding": {"x": {"datum": 0.3, "type": "quantitative"}}},
        {"data": {"values": [{}]}, "mark": {"type": "rule", "color": "#999"}, "encoding": {"y": {"datum": 0, "type": "quantitative"}}},
        {"data": {"name": "h_lab"}, "mark": {"type": "point", "shape": "M-1,-0.22L1,-0.22L1,0.22L-1,0.22Z", "filled": true, "fill": "white", "stroke": "#666", "strokeWidth": 0.8, "size": 1300, "opacity": 1}, "encoding": {"x": {"field": "x", "type": "quantitative"}, "y": {"field": "y", "type": "quantitative"}}},
        {"data": {"name": "h_lab"}, "mark": {"type": "text", "fontSize": 7, "color": "#333"}, "encoding": {"x": {"field": "x", "type": "quantitative"}, "y": {"field": "y", "type": "quantitative"}, "text": {"field": "label"}}}
       ]
      }
     ]
    },
    {
     "title": {"text": "I", "fontSize": 26, "anchor": "start", "frame": "bounds", "offset": 0, "dx": 0, "color": "#000"},
     "width": 305, "height": 200,
     "layer": [
      {"data": {"name": "i_bar"}, "mark": {"type": "bar"}, "encoding": {
       "x": {"field": "id", "type": "nominal", "scale": {"paddingInner": 0.17, "paddingOuter": 0.64}, "axis": null},
       "y": {"field": "v", "type": "quantitative", "scale": {"domain": [-0.56, 0.68], "nice": false, "zero": false}, "axis": {"title": "m1A score (z-score)", "values": [-0.3, 0, 0.3, 0.6], "format": ".1f", "labelFontSize": 6, "labelColor": "#777", "titleFontSize": 13, "tickSize": 3}},
       "color": {"field": "resp", "type": "nominal", "scale": {"domain": ["Complete Response", "Partial Response", "Progressive Disease"], "range": ["#a6c3d3", "#3d6898", "#a3cf7f"]}, "legend": {"orient": "bottom-left", "direction": "horizontal", "title": null, "symbolType": "square", "symbolSize": 110, "symbolStrokeWidth": 0, "labelFontSize": 10.5, "labelColor": "#222", "columnPadding": 10, "offset": 0, "padding": 0, "labelOffset": 3}}}},
      {"data": {"values": [{"id": "b01", "v": 0.645, "label": "Pembrolizumab treatment"}]}, "mark": {"type": "text", "align": "left", "dx": -11, "fontSize": 12, "color": "#111"}, "encoding": {"x": {"field": "id", "type": "nominal"}, "y": {"field": "v", "type": "quantitative"}, "text": {"field": "label"}}},
      {"data": {"values": [{"id": "b01", "v": 0.166, "label": "Low m1AScore group(n=13)"}]}, "mark": {"type": "text", "align": "left", "dx": -2, "fontSize": 12, "color": "#111"}, "encoding": {"x": {"field": "id", "type": "nominal"}, "y": {"field": "v", "type": "quantitative"}, "text": {"field": "label"}}},
      {"data": {"values": [{"id": "b26", "v": -0.147, "label": "High m1AScore group(n=14)"}]}, "mark": {"type": "text", "align": "right", "dx": -4, "fontSize": 12, "color": "#111"}, "encoding": {"x": {"field": "id", "type": "nominal"}, "y": {"field": "v", "type": "quantitative"}, "text": {"field": "label"}}}
     ]
    },
    {
     "title": {"text": "J", "fontSize": 26, "anchor": "start", "frame": "bounds", "offset": -26, "dx": -3, "color": "#000"},
     "resolve": {"scale": {"color": "independent"}, "legend": {"color": "independent"}},
     "vconcat": [
      {
       "title": {"text": "P = 0.322", "fontSize": 12, "anchor": "middle", "frame": "group", "offset": 2},
       "width": 126, "height": 182,
       "view": {"stroke": "#d5d5d5", "fill": "white"},
       "data": {"name": "j_bar"},
       "encoding": {"x": {"field": "group", "type": "nominal", "sort": ["Low", "High"], "scale": {"paddingInner": 0.107, "paddingOuter": 0.18}, "axis": {"title": "m1AScore group", "labelAngle": 0, "labelFontSize": 12, "titleFontSize": 13, "domain": false, "tickSize": 3, "labelColor": "#222"}}},
       "layer": [
        {"mark": {"type": "bar"}, "encoding": {"y": {"field": "n", "type": "quantitative", "stack": "normalize", "scale": {"domain": [-0.055, 1.052], "nice": false, "zero": false}, "axis": {"title": "immune response patients n(%)", "values": [0, 0.25, 0.5, 0.75, 1], "format": ".0%", "domain": false, "labelFontSize": 11, "labelColor": "#555", "titleFontSize": 12, "tickSize": 3}}, "color": {"field": "resp", "type": "nominal", "scale": {"domain": ["CR/PR", "PD"], "range": ["#d7372b", "#382c48"]}, "legend": {"orient": "top", "direction": "horizontal", "title": "binaryResponse", "titleOrient": "left", "titleFontSize": 6, "labelFontSize": 5.5, "symbolType": "square", "symbolSize": 60, "symbolStrokeWidth": 0, "offset": 3, "titlePadding": 4, "columnPadding": 6, "labelOffset": 2, "padding": 0}}, "order": {"field": "resp", "type": "nominal", "sort": "descending"}}},
        {"mark": {"type": "text", "color": "#e8e8e8", "fontSize": 11}, "encoding": {"y": {"field": "n", "type": "quantitative", "stack": "normalize", "bandPosition": 0.5}, "detail": {"field": "resp"}, "order": {"field": "resp", "type": "nominal", "sort": "descending"}, "text": {"field": "label"}}}
       ]
      }
     ]
    }
   ]
  }
 ]
}
